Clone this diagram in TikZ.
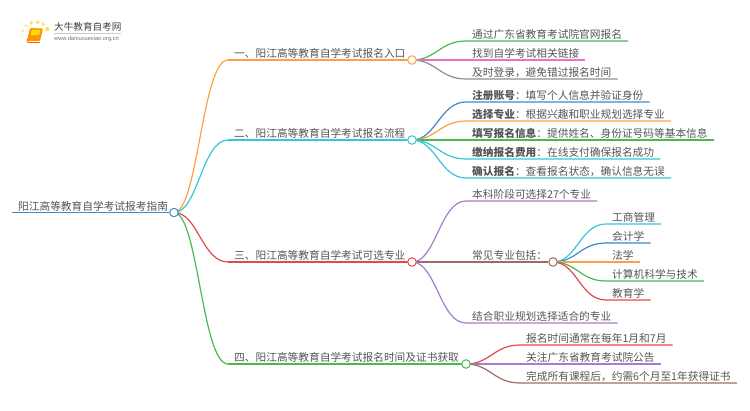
\documentclass[tikz,border=0pt]{standalone}
\usepackage{fontspec}
\setmainfont{Noto Sans CJK SC}
\newfontfamily\latinfont{Liberation Sans}
\usetikzlibrary{backgrounds}

\definecolor{rootblue}{HTML}{3C8AC8}
\definecolor{mporange}{HTML}{FF9F45}
\definecolor{mpcyan}{HTML}{35C6DA}
\definecolor{mpred}{HTML}{E2494F}
\definecolor{mpgreen}{HTML}{4DB84F}
\definecolor{mppink}{HTML}{EE70C6}
\definecolor{mpgray}{HTML}{8F8F8F}
\definecolor{mppurple}{HTML}{A87BCB}
\definecolor{mpbrown}{HTML}{9C6E63}
\definecolor{mptext}{HTML}{555555}

\tikzset{
	topic/.style={anchor=south west, inner xsep=6pt, inner ysep=0.7pt, text height=9.5pt, text depth=1.3pt,
		text=mptext, font=\fontsize{10.7}{12}\selectfont},
	junction/.style={circle, draw, fill=white, line width=1pt, minimum size=8.5pt, inner sep=0pt},
	link/.style={line width=1.2pt},
}

% curve from a junction to the underline of a topic
\newcommand{\topiclink}[3]{%
	\draw[link, #1] (#2.center) .. controls +(24,0) and +(-26,0) .. (#3.south west) -- (#3.south east);
}

\begin{document}
\begin{tikzpicture}[x=1pt, y=-1pt]
	\useasboundingbox (0,0) rectangle (750,410);

	% -----------------------------------------
	% 1. logo
	% -----------------------------------------
	\foreach \dotx/\doty/\dotr/\dotc in {22.7/30.7/1.6/40, 26/25.7/1.7/50, 31.3/22.7/1.9/60, 37.7/22.3/1.9/60, 43/24.3/1.9/60, 47.3/29/2.1/70, 21.7/36/1.3/25, 23.3/42.3/1.1/15}
		\fill[yellow!70!orange!\dotc!white] (\dotx,\doty) circle (\dotr);
	\fill[orange!85!yellow, rounded corners=1pt] (30,28) -- (43,28.5) -- (40,41) -- (27,41) -- cycle;
	\fill[yellow!80!orange, rounded corners=0.5pt] (32,29.5) -- (40.5,30) -- (39,35) -- (30.5,35) -- cycle;
	\draw[orange!75!red, line width=0.8pt, rounded corners=1pt] (27.5,39) -- (27,42.5) -- (40,42.5);
	\node[anchor=west, inner sep=0pt, text=black!75, font=\fontsize{9.6}{11}\selectfont] (logotitle) at (54,27) {大牛教育自考网};
	\node[anchor=west, inner sep=0pt, text=black!55, font=\latinfont\fontsize{5.7}{7}\selectfont] (logourl) at (54,39) {www.daniuxuexiao.org.cn};
	\draw[black!20, line width=0.5pt] (54,33.2) -- (121,33.2);

	% -----------------------------------------
	% 2. root and main branches
	% -----------------------------------------
	\node[topic] (root) at (12,212.5) {阳江高等教育自学考试报考指南};
	\node[topic] (branchA) at (228,60) {一、阳江高等教育自学考试报名入口};
	\node[topic] (branchB) at (228,140) {二、阳江高等教育自学考试报名流程};
	\node[topic] (branchC) at (228,262) {三、阳江高等教育自学考试可选专业};
	\node[topic] (branchD) at (228,364) {四、阳江高等教育自学考试报名时间及证书获取};

	\node[junction, draw=rootblue] (rootdot) at (174,212.5) {};
	\node[junction, draw=mporange] (dotA) at (412,60) {};
	\node[junction, draw=mpcyan] (dotB) at (412,140) {};
	\node[junction, draw=mpred] (dotC) at (412,262) {};
	\node[junction, draw=mpgreen] (dotD) at (466,364) {};

	% -----------------------------------------
	% 3. leaves
	% -----------------------------------------
	\node[topic] (leafA1) at (466,41) {通过广东省教育考试院官网报名};
	\node[topic] (leafA2) at (466,60) {找到自学考试相关链接};
	\node[topic] (leafA3) at (466,79) {及时登录，避免错过报名时间};

	\node[topic] (leafB1) at (466,102) {\textbf{注册账号}：填写个人信息并验证身份};
	\node[topic] (leafB2) at (466,121) {\textbf{选择专业}：根据兴趣和职业规划选择专业};
	\node[topic] (leafB3) at (466,140) {\textbf{填写报名信息}：提供姓名、身份证号码等基本信息};
	\node[topic] (leafB4) at (466,159) {\textbf{缴纳报名费用}：在线支付确保报名成功};
	\node[topic] (leafB5) at (466,178) {\textbf{确认报名}：查看报名状态，确认信息无误};

	\node[topic] (leafC1) at (466,201) {本科阶段可选择27个专业};
	\node[topic] (leafC2) at (466,262) {常见专业包括：};
	\node[topic] (leafC3) at (466,323) {结合职业规划选择适合的专业};
	\node[junction, draw=mpbrown] (dotC2) at (553,262) {};

	\node[topic] (subA) at (606,224) {工商管理};
	\node[topic] (subB) at (606,243) {会计学};
	\node[topic] (subC) at (606,262) {法学};
	\node[topic] (subD) at (606,281) {计算机科学与技术};
	\node[topic] (subE) at (606,300) {教育学};

	\node[topic] (leafD1) at (520,345) {报名时间通常在每年1月和7月};
	\node[topic] (leafD2) at (520,364) {关注广东省教育考试院公告};
	\node[topic] (leafD3) at (520,383) {完成所有课程后，约需6个月至1年获得证书};

	% -----------------------------------------
	% 4. connectors (behind the junctions)
	% -----------------------------------------
	\begin{scope}[on background layer]
		\draw[link, line width=1.5pt, rootblue] (root.south west) -- (rootdot);
		\topiclink{mporange}{rootdot}{branchA}
		\topiclink{mpcyan}{rootdot}{branchB}
		\topiclink{mpred}{rootdot}{branchC}
		\topiclink{mpgreen}{rootdot}{branchD}

		\draw[link, mporange] (branchA.south west) -- (dotA);
		\draw[link, mpcyan] (branchB.south west) -- (dotB);
		\draw[link, mpred] (branchC.south west) -- (dotC);
		\draw[link, mpgreen] (branchD.south west) -- (dotD);

		\topiclink{mpgreen}{dotA}{leafA1}
		\topiclink{mppink}{dotA}{leafA2}
		\topiclink{mpgray}{dotA}{leafA3}

		\topiclink{rootblue}{dotB}{leafB1}
		\topiclink{mporange}{dotB}{leafB2}
		\topiclink{mpgreen}{dotB}{leafB3}
		\topiclink{mpcyan}{dotB}{leafB4}
		\topiclink{mpcyan}{dotB}{leafB5}

		\topiclink{mppurple}{dotC}{leafC1}
		\draw[link, mpbrown] (dotC) -- (dotC2);
		\topiclink{mppurple}{dotC}{leafC3}

		\topiclink{mpcyan}{dotC2}{subA}
		\topiclink{rootblue}{dotC2}{subB}
		\topiclink{mporange}{dotC2}{subC}
		\topiclink{mpgreen}{dotC2}{subD}
		\topiclink{mpred}{dotC2}{subE}

		\topiclink{mpred}{dotD}{leafD1}
		\topiclink{mppurple}{dotD}{leafD2}
		\topiclink{mpbrown}{dotD}{leafD3}
	\end{scope}
\end{tikzpicture}
\end{document}
